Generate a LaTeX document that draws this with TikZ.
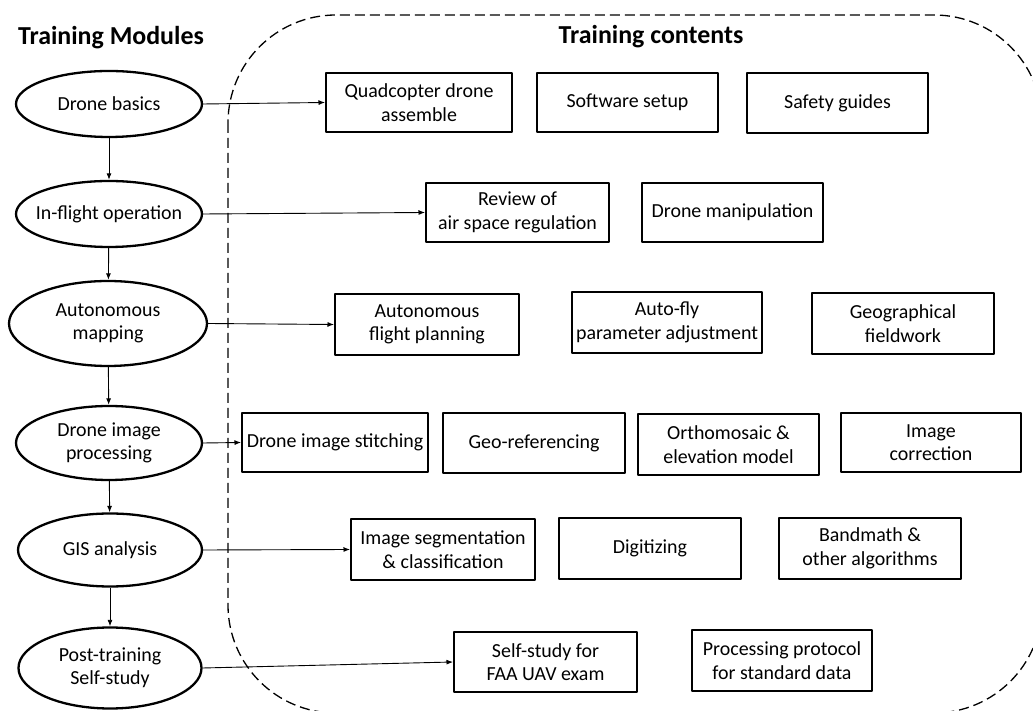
\documentclass[tikz,border=0pt]{standalone}
\usepackage{fontspec}
\setmainfont{Carlito}
\usetikzlibrary{shapes.geometric,arrows.meta}
\tikzset{
  module/.style 2 args={ellipse,draw,line width=2.3bp,inner sep=0pt,
    minimum width=#1,minimum height=#2},
  content/.style 2 args={rectangle,draw,line width=2bp,inner sep=1bp,align=center,
    minimum width=#1,minimum height=#2},
  heading/.style={font=\fontsize{26}{30}\selectfont\bfseries},
  link/.style={black,line width=0.9bp,->},
}
\begin{document}
\begin{tikzpicture}[>={Latex[length=6.5bp,width=5bp]},line join=bevel,
  every node/.append style={font=\fontsize{20}{23.5}\selectfont}]
\useasboundingbox (0bp,0bp) rectangle (1033bp,711bp);
%%
\begin{scope}
  \clip (0bp,0bp) rectangle (1033bp,711bp);
  \draw [line width=1.3bp,dash pattern=on 10bp off 5bp,rounded corners=108bp] (228bp,696bp) rectangle (1042bp,-2bp);
\end{scope}
%
\node (title_mod) at (111bp,673bp) [heading] {Training Modules};
\node (title_cont) at (651bp,674bp) [heading] {Training contents};
%
\node (mod_1) at (109bp,607bp) [module={186bp}{66bp},label={[align=center]center:Drone basics}] {};
\node (mod_2) at (109bp,497bp) [module={186bp}{66bp},label={[align=center]center:In-flight operation}] {};
\node (mod_3) at (108bp,387.5bp) [module={198bp}{85bp},label={[align=center]center:Autonomous\\mapping}] {};
\node (mod_4) at (109bp,268bp) [module={186bp}{74bp},label={[align=center]center:Drone image\\processing}] {};
\node (mod_5) at (110bp,161bp) [module={184bp}{73bp},label={[align=center]center:GIS analysis}] {};
\node (mod_6) at (110bp,43bp) [module={183bp}{81bp},label={[align=center]center:Post-training\\Self-study}] {};
%
\node (cont_1_1) at (419bp,608.5bp) [content={186bp}{59bp}] {Quadcopter drone\\assemble};
\node (cont_1_2) at (627.5bp,608.5bp) [content={181bp}{59bp}] {Software setup};
\node (cont_1_3) at (837.5bp,608bp) [content={181bp}{60bp}] {Safety guides};
\node (cont_2_1) at (517.5bp,498.5bp) [content={183bp}{59bp}] {Review of\\air space regulation};
\node (cont_2_2) at (732.5bp,498.5bp) [content={181bp}{59bp}] {Drone manipulation};
\node (cont_3_1) at (427bp,386.5bp) [content={184bp}{61bp}] {Autonomous\\flight planning};
\node (cont_3_2) at (667bp,388.5bp) [content={190bp}{61bp}] {Auto-fly\\parameter adjustment};
\node (cont_3_3) at (903bp,387.5bp) [content={182bp}{61bp}] {Geographical\\fieldwork};
\node (cont_4_1) at (335bp,268.5bp) [content={186bp}{59bp}] {Drone image stitching};
\node (cont_4_2) at (534bp,268bp) [content={182bp}{60bp}] {Geo-referencing};
\node (cont_4_3) at (728.5bp,266.5bp) [content={181bp}{61bp}] {Orthomosaic \&\\elevation model};
\node (cont_4_4) at (931bp,268.5bp) [content={180bp}{59bp}] {Image\\correction};
\node (cont_5_1) at (443bp,161.5bp) [content={184bp}{61bp}] {Image segmentation\\\& classification};
\node (cont_5_2) at (650bp,162.5bp) [content={182bp}{61bp}] {Digitizing};
\node (cont_5_3) at (870bp,162.5bp) [content={182bp}{61bp}] {Bandmath \&\\other algorithms};
\node (cont_6_1) at (545.5bp,49bp) [content={183bp}{60bp}] {Self-study for\\FAA UAV exam};
\node (cont_6_2) at (782bp,50.5bp) [content={180bp}{61bp}] {Processing protocol\\for standard data};
%
\draw [link] (mod_1) -- (mod_2);
\draw [link] (mod_2) -- (mod_3);
\draw [link] (mod_3) -- (mod_4);
\draw [link] (mod_4) -- (mod_5);
\draw [link] (mod_5) -- (mod_6);
%
\draw [link] (mod_1.east) -- (cont_1_1.west);
\draw [link] (mod_2.east) -- (cont_2_1.west);
\draw [link] (mod_3.east) -- (cont_3_1.west);
\draw [link] (mod_4.east) -- (cont_4_1.west);
\draw [link] (mod_5.east) -- (cont_5_1.west);
\draw [link] (mod_6.east) -- (cont_6_1.west);
%
\end{tikzpicture}
\end{document}
